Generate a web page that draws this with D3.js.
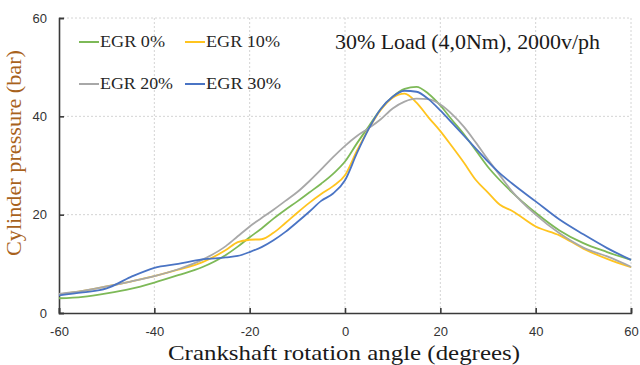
<!DOCTYPE html>
<html>
<head>
<meta charset="utf-8">
<script src="https://cdn.jsdelivr.net/npm/d3@7"></script>
<style>
  html, body { margin: 0; padding: 0; background: #fff; }
  svg { display: block; }
  .serif { font-family: "Times New Roman", "Liberation Serif", Times, serif; }
</style>
</head>
<body>
<svg id="chart" width="640" height="365"></svg>
<script>
const angles = [-60,-55,-50,-45,-40,-35,-30,-25,-22.5,-20,-17.5,-15,-12.5,-10,-7.5,-5,-2.5,0,2.5,5,7.5,10,12.5,15,17.5,20,22.5,25,27.5,30,32.5,35,40,45,50,55,60];
const egr0  = [3.0,3.3,4.0,4.9,6.2,7.7,9.3,11.8,13.5,15.4,17.2,19.2,21.0,22.7,24.5,26.3,28.3,30.8,34.5,38.0,41.5,44.0,45.6,46.0,44.6,42.2,39.2,36.3,33.0,29.7,27.0,24.6,20.4,16.8,14.2,12.4,10.8];
const egr10 = [3.8,4.5,5.4,6.4,7.5,8.8,10.3,12.8,14.4,14.9,15.0,16.3,18.3,20.4,22.4,24.2,25.8,28.0,33.0,37.5,41.3,43.8,44.6,42.8,39.8,37.0,33.8,30.5,27.0,24.5,22.0,20.8,17.6,15.8,13.1,11.0,9.3];
const egr20 = [3.9,4.5,5.4,6.4,7.5,8.9,10.8,13.6,15.6,17.6,19.3,21.0,22.8,24.6,26.8,29.2,31.7,34.0,36.0,37.6,39.4,41.6,43.0,43.6,43.5,42.4,40.4,37.8,34.6,31.2,28.0,24.8,20.0,16.2,13.3,11.5,9.4];
const egr30 = [3.6,4.2,5.0,7.3,9.2,10.0,10.9,11.3,11.6,12.4,13.4,14.8,16.5,18.5,20.6,22.8,24.3,27.0,32.5,37.5,41.5,44.0,45.2,45.0,43.5,41.2,38.6,36.0,33.4,30.8,28.4,26.4,22.7,19.0,16.0,13.2,10.8];
const seriesNames = ["EGR 0%","EGR 10%","EGR 20%","EGR 30%"];
const seriesColors = ["#7DB957","#FFC41F","#A8A8A8","#4A74C4"];
const xTicks = [-60,-40,-20,0,20,40,60];
const yTicks = [0,20,40,60];
const titleText = "30% Load (4,0Nm), 2000v/ph";
const xLabel = "Crankshaft rotation angle (degrees)";
const yLabel = "Cylinder pressure (bar)";

const svg = d3.select("#chart");
const L = 59, R = 631, T = 18, B = 313;
const x = d3.scaleLinear().domain([-60, 60]).range([L, R]);
const y = d3.scaleLinear().domain([0, 60]).range([B, T]);

// grid
const grid = svg.append("g");
grid.selectAll("line.v").data(xTicks.filter(d => d !== -60)).enter().append("line")
  .attr("x1", d => x(d)).attr("x2", d => x(d)).attr("y1", T).attr("y2", B)
  .attr("stroke", "#d4d4d4").attr("stroke-width", 1).attr("stroke-dasharray", "2,2");
grid.selectAll("line.h").data(yTicks.filter(d => d !== 0)).enter().append("line")
  .attr("x1", L).attr("x2", R).attr("y1", d => y(d)).attr("y2", d => y(d))
  .attr("stroke", "#d4d4d4").attr("stroke-width", 1).attr("stroke-dasharray", "2,2");

// axes
const fmt = d => String(d);
const xAxis = svg.append("g").attr("transform", `translate(0,${B})`)
  .call(d3.axisBottom(x).tickValues(xTicks).tickSize(-5).tickPadding(14).tickFormat(fmt));
const yAxis = svg.append("g").attr("transform", `translate(${L},0)`)
  .call(d3.axisLeft(y).tickValues(yTicks).tickSize(-5).tickPadding(12).tickFormat(fmt));
[xAxis, yAxis].forEach(a => {
  a.select(".domain").attr("stroke", "#3a3a3a").attr("stroke-width", 1.6);
  a.selectAll(".tick line").attr("stroke", "#3a3a3a").attr("stroke-width", 1.6);
  a.selectAll(".tick text").attr("fill", "#333").attr("font-family", "Liberation Sans, Arial, sans-serif").attr("font-size", 13);
});

// lines
const allSeries = [egr0, egr10, egr20, egr30];
const line = d3.line().x((d, i) => x(angles[i])).y(d => y(d)).curve(d3.curveMonotoneX);
svg.append("g").selectAll("path").data(allSeries).enter().append("path")
  .attr("d", d => line(d))
  .attr("fill", "none")
  .attr("stroke", (d, i) => seriesColors[i])
  .attr("stroke-width", 1.8);

// legend
const legPos = [[79, 42], [185, 42], [79, 84], [185, 84]];
const legW = [65, 74, 73, 75];
const leg = svg.append("g");
seriesNames.forEach((n, i) => {
  const [lx, ly] = legPos[i];
  leg.append("line").attr("x1", lx).attr("x2", lx + 20).attr("y1", ly).attr("y2", ly)
    .attr("stroke", seriesColors[i]).attr("stroke-width", 2);
  leg.append("text").attr("class", "serif").attr("x", lx + 21).attr("y", ly + 5)
    .attr("fill", "#262626").attr("font-size", 16)
    .attr("textLength", legW[i]).attr("lengthAdjust", "spacingAndGlyphs")
    .text(n);
});

// title
svg.append("text").attr("class", "serif").attr("x", 335).attr("y", 49)
  .attr("fill", "#1a1a1a").attr("font-size", 21)
  .attr("textLength", 265).attr("lengthAdjust", "spacingAndGlyphs")
  .text(titleText);

// axis labels
svg.append("text").attr("class", "serif").attr("x", 344).attr("y", 360).attr("text-anchor", "middle")
  .attr("fill", "#1a1a1a").attr("font-size", 21)
  .attr("textLength", 352).attr("lengthAdjust", "spacingAndGlyphs")
  .text(xLabel);
svg.append("text").attr("class", "serif").attr("transform", "translate(21,153) rotate(-90)").attr("text-anchor", "middle")
  .attr("fill", "#A8621C").attr("font-size", 20)
  .attr("textLength", 206).attr("lengthAdjust", "spacingAndGlyphs")
  .text(yLabel);
</script>
</body>
</html>
